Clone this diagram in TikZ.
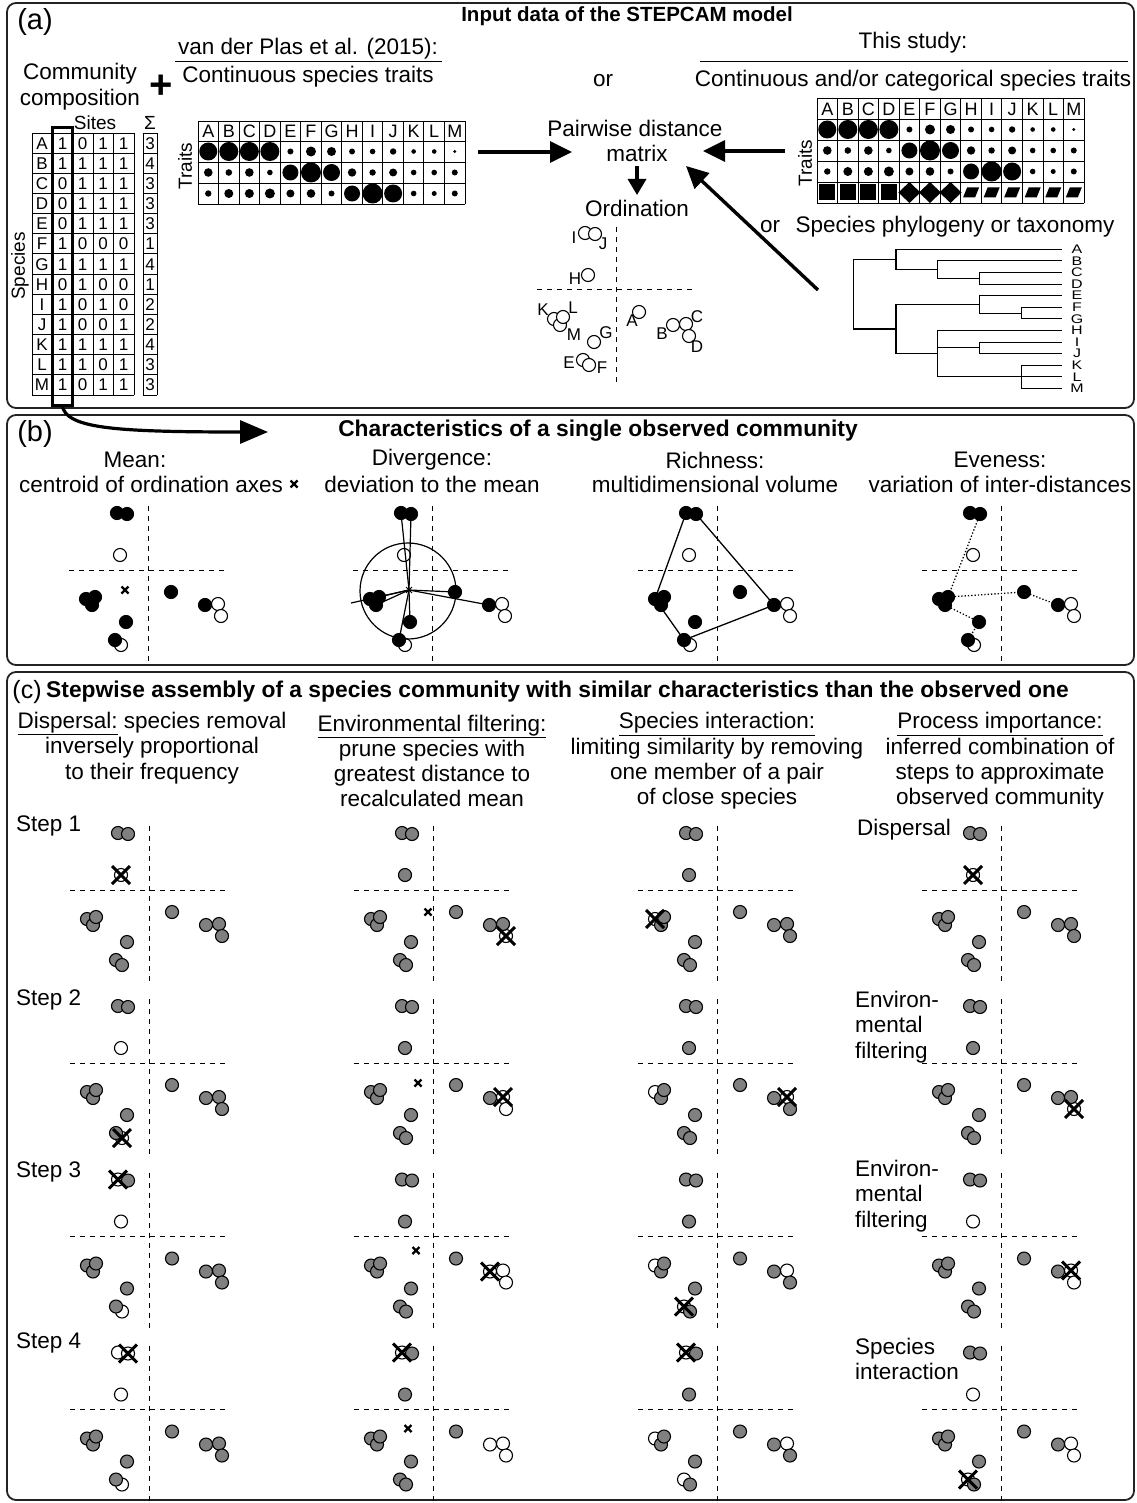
\documentclass[tikz,border=0pt]{standalone}
\usepackage{fontspec}
\setmainfont{Liberation Sans}
\usetikzlibrary{arrows.meta}
\definecolor{dotgray}{RGB}{128,128,128}
\definecolor{framec}{RGB}{35,35,35}
\tikzset{
 loc/A/.style={shift={(23,22)}},
 loc/B/.style={shift={(57,35)}},
 loc/C/.style={shift={(70,34)}},
 loc/D/.style={shift={(73,46)}},
 loc/E/.style={shift={(-33,70)}},
 loc/F/.style={shift={(-27,75)}},
 loc/G/.style={shift={(-22,52)}},
 loc/H/.style={shift={(-28,-15)}},
 loc/I/.style={shift={(-31,-57)}},
 loc/J/.style={shift={(-21,-56)}},
 loc/K/.style={shift={(-62,29)}},
 loc/L/.style={shift={(-53,27)}},
 loc/M/.style={shift={(-56,35)}},
 txt/.style={font=\fontsize{22.5}{25.3}\selectfont, inner sep=0pt, align=center},
 btitle/.style={font=\fontsize{22.8}{25}\selectfont\bfseries, inner sep=0pt},
 lbl/.style={font=\fontsize{29}{30}\selectfont, inner sep=0pt},
 tabtxt/.style={font=\fontsize{17}{17}\selectfont, inner sep=0pt},
 sptxt/.style={font=\fontsize{17}{17}\selectfont, inner sep=0pt},
 tab/.style={line width=0.9pt},
 axis/.style={dash pattern=on 5pt off 5pt, line width=1pt},
 opn/.style={draw, fill=white, line width=1.1pt},
 blk/.style={draw, fill=black, line width=1.1pt},
 gry/.style={draw, fill=dotgray, line width=1.1pt},
 crs/.style={line width=3pt},
 mnk/.style={line width=2.4pt},
 panel/.style={draw=framec, line width=1.8pt, rounded corners=9pt},
 bigarrow/.style={line width=3.4pt, -{Triangle[length=22pt,width=21pt]}},
 treeln/.style={line width=1.1pt},
}
\newcommand\spset[2]{\foreach \s in {#2}{\path[#1,loc/\s] (0,0) circle[radius=6.5];}}
\newcommand\spcross[1]{\foreach \s in {#1}{\draw[crs,loc/\s] (-9,-9) -- (9,9) (-9,9) -- (9,-9);}}
\newcommand\meanmk[2]{\draw[mnk,shift={(#1,#2)}] (-3.5,-3.5) -- (3.5,3.5) (-3.5,3.5) -- (3.5,-3.5);}
\newcommand\ordaxes{\draw[axis] (-79,0) -- (79,0) (0,-64) -- (0,92);}
\newcommand\ccell[6]{\begin{scope}[shift={(#1,#2)}]\ordaxes\spset{opn}{#3}\spset{gry}{#4}\spcross{#5}#6\end{scope}}
\begin{document}
\begin{tikzpicture}[x=1pt,y=-1pt]
\useasboundingbox (0,0) rectangle (1136,1503);
\fill[white] (0,0) rectangle (1136,1503);
% ---------------- panels
\draw[panel] (7,3) rectangle (1134,408);
\draw[panel] (7,415) rectangle (1134,665);
\draw[panel] (7,672) rectangle (1134,1500);
% ================= (a)
\node[lbl] (la) at (35,22) {(a)};
\node[btitle, font=\fontsize{20.5}{25}\selectfont\bfseries] (ta) at (627,16) {Input data of the STEPCAM model};
\node[txt] (vdp) at (308,49) {van der Plas et al. (2015):};
\draw[line width=1pt] (175,62) -- (442,62);
\node[txt] (cst) at (308,77) {Continuous species traits};
\node[txt] (cc1) at (80,74) {Community};
\node[txt] (cc2) at (80,100) {composition};
\node[font=\fontsize{40}{40}\selectfont\bfseries, inner sep=0] (plus) at (161,87) {+};
\node[txt] (or1) at (603,81) {or};
\node[txt] (ts) at (913,43) {This study:};
\draw[line width=1pt] (700,62) -- (1128,62);
\node[txt] (ccs) at (913,81) {Continuous and/or categorical species traits};
\node[txt] (pdm1) at (635,128) {Pairwise distance};
\node[txt] (pdm2) at (637,153) {matrix};
\node[txt] (ordt) at (637,208) {Ordination};
\node[txt] (or2) at (770,227) {or};
\node[txt] (phy) at (955,227) {Species phylogeny or taxonomy};
% species table
\node[font=\fontsize{19}{19}\selectfont, inner sep=0] (sites) at (95,123) {Sites};
\node[font=\fontsize{19}{19}\selectfont, inner sep=0] (sigma) at (150,123) {Σ};
\node[font=\fontsize{19}{19}\selectfont, inner sep=0, rotate=90] (specl) at (20,266) {Species};
\foreach \k in {0,...,13} \draw[tab] (32,133+20.15*\k) -- (134,133+20.15*\k) (143,133+20.15*\k) -- (157,133+20.15*\k);
\foreach \xx in {32,52.5,72.5,93,113.5,134,143,157} \draw[tab] (\xx,133) -- (\xx,395);
\foreach \l/\a/\b/\c/\d/\t [count=\i from 0] in {A/1/0/1/1/3,B/1/1/1/1/4,C/0/1/1/1/3,D/0/1/1/1/3,E/0/1/1/1/3,F/1/0/0/0/1,G/1/1/1/1/4,H/0/1/0/0/1,I/1/0/1/0/2,J/1/0/0/1/2,K/1/1/1/1/4,L/1/1/0/1/3,M/1/0/1/1/3}{
  \pgfmathsetmacro\yy{133+20.15*\i+10.3}
  \node[tabtxt] (tl\i) at (42,\yy) {\l};
  \node[tabtxt] (ta\i) at (62.5,\yy) {\a};
  \node[tabtxt] (tb\i) at (82.7,\yy) {\b};
  \node[tabtxt] (tc\i) at (103.2,\yy) {\c};
  \node[tabtxt] (td\i) at (123.7,\yy) {\d};
  \node[tabtxt] (tt\i) at (150,\yy) {\t};
}
\draw[line width=3pt] (52.5,128) rectangle (72.5,405);
\coordinate (colbot) at (62,405);
% left traits table
\node[font=\fontsize{19}{19}\selectfont, inner sep=0, rotate=90] (trl) at (185,166) {Traits};
\foreach \i in {0,...,13} \draw[tab] (198+20.54*\i,121) -- (198+20.54*\i,204);
\foreach \yy in {121,141,162,183,204} \draw[tab] (198,\yy) -- (465,\yy);
\foreach \l [count=\i] in {A,B,C,D,E,F,G,H,I,J,K,L,M} \node[tabtxt, font=\fontsize{18}{18}\selectfont] (lh\i) at (198+20.54*\i-10.27,131.5) {\l};
\foreach \r [count=\i] in {9,9.5,9.5,9.5,3,5,4.5,3,2.8,3.2,2.3,2.3,1.7} \fill (198+20.54*\i-10.27,151.5) circle[radius=\r];
\foreach \r [count=\i] in {4.3,3.3,4.3,2.8,8,10,8.5,4.2,3.2,4,2.8,2.8,3} \fill (198+20.54*\i-10.27,172.5) circle[radius=\r];
\foreach \r [count=\i] in {3.2,4.5,4.5,5,4,4.3,3,8,10,9,2.8,2.5,3} \fill (198+20.54*\i-10.27,193.5) circle[radius=\r];
% right traits table
\node[font=\fontsize{19}{19}\selectfont, inner sep=0, rotate=90] (trr) at (805,163) {Traits};
\foreach \i in {0,...,13} \draw[tab] (817+20.54*\i,98.5) -- (817+20.54*\i,203);
\foreach \yy in {98.5,119,140,161,182,203} \draw[tab] (817,\yy) -- (1084,\yy);
\foreach \l [count=\i] in {A,B,C,D,E,F,G,H,I,J,K,L,M} \node[tabtxt, font=\fontsize{18}{18}\selectfont] (rh\i) at (817+20.54*\i-10.27,109) {\l};
\foreach \r [count=\i] in {9,9.5,9.5,9.5,3,5,4.5,3,2.8,3.2,2.3,2.3,1.7} \fill (817+20.54*\i-10.27,129.5) circle[radius=\r];
\foreach \r [count=\i] in {4.3,3.3,4.3,2.8,8,10,8.5,4.2,3.2,4,2.8,2.8,3} \fill (817+20.54*\i-10.27,150.5) circle[radius=\r];
\foreach \r [count=\i] in {3.2,4.5,4.5,5,4,4.3,3,8,10,9,2.8,2.5,3} \fill (817+20.54*\i-10.27,171.5) circle[radius=\r];
\foreach \i in {1,...,4} {\pgfmathsetmacro\cx{817+20.54*\i-10.27}\fill (\cx-8,184.5) rectangle (\cx+8,200.5);}
\foreach \i in {5,6,7} {\pgfmathsetmacro\cx{817+20.54*\i-10.27}\fill (\cx-11,192.5) -- (\cx,182) -- (\cx+11,192.5) -- (\cx,203) -- cycle;}
\foreach \i in {8,...,13} {\pgfmathsetmacro\cx{817+20.54*\i-10.27}\fill (\cx-8,197.5) -- (\cx-4,187.5) -- (\cx+8,187.5) -- (\cx+4,197.5) -- cycle;}
% arrows (a)
\coordinate (lt) at (478,152);
\coordinate (pdl) at (572,152);
\coordinate (rt) at (785,151);
\coordinate (pdr) at (703,151);
\coordinate (mxb) at (637,166);
\coordinate (ordtop) at (637,195);
\coordinate (phyarr) at (818,290);
\coordinate (pdd) at (686,166);
\draw[bigarrow] (lt) -- (pdl);
\draw[bigarrow] (rt) -- (pdr);
\draw[bigarrow, -{Triangle[length=16pt,width=18pt]}] (mxb) -- (ordtop);
\draw[bigarrow] (phyarr) -- (pdd);
% ordination
\begin{scope}[shift={(616,290)}]
 \draw[axis] (-79,0) -- (79,0) (0,-63) -- (0,92);
 \spset{opn}{I,J,H,K,M,L,G,E,F,A,B,C,D}
 \foreach \l/\px/\py in {I/-42/-52,J/-13/-46,H/-41/-11,K/-73/20,L/-43/18,M/-42/45,G/-10/43,E/-47/73,F/-14/78,A/16/31,B/46/44,C/81/27,D/81/57}
   \node[sptxt] (o\l) at (\px,\py) {\l};
\end{scope}
% phylogeny
\foreach \l/\yy in {A/249.3,B/260.9,C/272.5,D/284.1,E/295.7,F/307.3,G/318.9,H/330.5,I/342.1,J/353.7,K/365.3,L/376.9,M/388.5}
  \node[font=\fontsize{16}{16}\selectfont, inner sep=0, yscale=0.78] (ph\l) at (1077,\yy) {\l};
\draw[treeln] (853.3,259.5) -- (853.3,329) (853.3,259.5) -- (896,259.5) (853.3,329) -- (896,329)
 (896,249.3) -- (896,269.6) (896,249.3) -- (1062,249.3) (896,269.6) -- (937.3,269.6)
 (937.3,260.9) -- (937.3,278.3) (937.3,260.9) -- (1062,260.9) (937.3,278.3) -- (979.3,278.3)
 (979.3,272.5) -- (979.3,284.1) (979.3,272.5) -- (1062,272.5) (979.3,284.1) -- (1062,284.1)
 (896,304.4) -- (896,353.7) (896,304.4) -- (979.3,304.4)
 (979.3,295.7) -- (979.3,313.1) (979.3,295.7) -- (1062,295.7) (979.3,313.1) -- (1021.7,313.1)
 (1021.7,307.3) -- (1021.7,318.9) (1021.7,307.3) -- (1062,307.3) (1021.7,318.9) -- (1062,318.9)
 (896,353.7) -- (937.3,353.7) (937.3,330.5) -- (937.3,376.9) (937.3,330.5) -- (1062,330.5)
 (937.3,347.9) -- (979.3,347.9) (979.3,342.1) -- (979.3,353.7) (979.3,342.1) -- (1062,342.1) (979.3,353.7) -- (1062,353.7)
 (937.3,376.9) -- (1021.7,376.9) (1021.7,365.3) -- (1021.7,388.5) (1021.7,365.3) -- (1062,365.3) (1021.7,376.9) -- (1062,376.9) (1021.7,388.5) -- (1062,388.5);
% ================= (b)
\coordinate (btip) at (268,432);
\draw[line width=3.2pt, -{Triangle[length=28pt,width=23pt]}] (colbot) .. controls (66,428) and (110,432) .. (btip);
\node[lbl] (lb) at (35,434) {(b)};
\node[btitle] (tb) at (598,431) {Characteristics of a single observed community};
\node[txt] (h1a) at (135,460) {Mean:};
\node[txt] (h1b) at (151,484) {centroid of ordination axes};
\draw[mnk] (290.5,480.5) -- (297.5,487.5) (290.5,487.5) -- (297.5,480.5);
\node[txt] (h2a) at (432,460) {Divergence:};
\node[txt] (h2b) at (432,484) {deviation to the mean};
\node[txt] (h3a) at (715,460) {Richness:};
\node[txt] (h3b) at (715,484) {multidimensional volume};
\node[txt] (h4a) at (1000,460) {Eveness:};
\node[txt] (h4b) at (1000,484) {variation of inter-distances};
\begin{scope}[shift={(148,570)}]
 \ordaxes
 \spset{opn}{H,F,C,D}
 \spset{blk}{I,J,K,M,L,G,E,A,B}
 \meanmk{-23}{20}
\end{scope}
\begin{scope}[shift={(432,570)}]
 \ordaxes
 \spset{opn}{H,F,C,D}
 \spset{blk}{I,J,K,M,L,G,E,A,B}
 \draw[line width=1.2pt] (-24,21) circle[radius=48];
 \foreach \p in {(-31,-57),(-21,-56),(-81,33),(-53,27),(-56,35),(-22,52),(-33,70),(23,22),(57,35)} \draw[line width=1.2pt] (-23,20) -- \p;
 \draw[line width=1pt] (-26,17) -- (-20,23) (-26,23) -- (-20,17);
\end{scope}
\begin{scope}[shift={(717,570)}]
 \ordaxes
 \draw[line width=1.3pt] (-31,-57) -- (-21,-56) -- (57,35) -- (-33,70) -- (-62,29) -- cycle;
 \spset{opn}{H,F,C,D}
 \spset{blk}{I,J,K,M,L,G,E,A,B}
\end{scope}
\begin{scope}[shift={(1001,570)}]
 \ordaxes
 \draw[line width=1.3pt, dotted] (-21,-56) -- (-53,27) -- (23,22) -- (57,35) (-56,35) -- (-22,52) -- (-33,70);
 \spset{opn}{H,F,C,D}
 \spset{blk}{I,J,K,M,L,G,E,A,B}
\end{scope}
% ================= (c)
\node[lbl, font=\fontsize{25}{26}\selectfont] (lc) at (27,692) {(c)};
\node[btitle, anchor=west] (tc) at (46,692) {Stepwise assembly of a species community with similar characteristics than the observed one};
\node[txt] (c1) at (152,748) {\underline{Dispersal:} species removal\\inversely proportional\\to their frequency};
\node[txt] (c2) at (432,761) {\underline{Environmental filtering:}\\prune species with\\greatest distance to\\recalculated mean};
\node[txt] (c3) at (717,761) {\underline{Species interaction:}\\limiting similarity by removing\\one member of a pair\\of close species};
\node[txt] (c4) at (1000,761) {\underline{Process importance:}\\inferred combination of\\steps to approximate\\observed community};
\node[txt, anchor=west] (s1) at (16,826) {Step 1};
\node[txt, anchor=west] (s2) at (16,1000) {Step 2};
\node[txt, anchor=west] (s3) at (16,1172) {Step 3};
\node[txt, anchor=west] (s4) at (16,1343) {Step 4};
\node[txt, anchor=west] (p1) at (857,830) {Dispersal};
\node[txt, anchor=north west, align=left] (p2) at (855,991) {Environ-\\mental\\filtering};
\node[txt, anchor=north west, align=left] (p3) at (855,1160) {Environ-\\mental\\filtering};
\node[txt, anchor=north west, align=left] (p4) at (855,1338) {Species\\interaction};
% step 1
\ccell{149}{890}{H}{I,J,K,M,L,G,E,F,A,B,C,D}{H}{}
\ccell{433}{890}{D}{I,J,H,K,M,L,G,E,F,A,B,C}{D}{\meanmk{-5}{22}}
\ccell{717}{890}{K}{I,J,H,M,L,G,E,F,A,B,C,D}{K}{}
\ccell{1001}{890}{H}{I,J,K,M,L,G,E,F,A,B,C,D}{H}{}
% step 2
\ccell{149}{1063}{H,F}{I,J,K,M,L,G,E,A,B,C,D}{F}{}
\ccell{433}{1063}{C,D}{I,J,H,K,M,L,G,E,F,A,B}{C}{\meanmk{-15}{20}}
\ccell{717}{1063}{K,C}{I,J,H,M,L,G,E,F,A,B,D}{C}{}
\ccell{1001}{1063}{D}{I,J,H,K,M,L,G,E,F,A,B,C}{D}{}
% step 3
\ccell{149}{1236.5}{H,F,I}{J,K,M,L,G,E,A,B,C,D}{I}{}
\ccell{433}{1236.5}{B,C,D}{I,J,H,K,M,L,G,E,F,A}{B}{\meanmk{-17}{14}}
\ccell{717}{1236.5}{K,C,E}{I,J,H,M,L,G,F,A,B,D}{E}{}
\ccell{1001}{1236.5}{H,C,D}{I,J,K,M,L,G,E,F,A,B}{C}{}
% step 4
\ccell{149}{1409.5}{H,F,I,J}{K,M,L,G,E,A,B,C,D}{J}{}
\ccell{433}{1409.5}{B,C,D,I}{J,H,K,M,L,G,E,F,A}{I}{\meanmk{-25}{19}}
\ccell{717}{1409.5}{K,C,E,I}{J,H,M,L,G,F,A,B,D}{I}{}
\ccell{1001}{1409.5}{H,C,D,E}{I,J,K,M,L,G,F,A,B}{E}{}
\end{tikzpicture}
\end{document}
